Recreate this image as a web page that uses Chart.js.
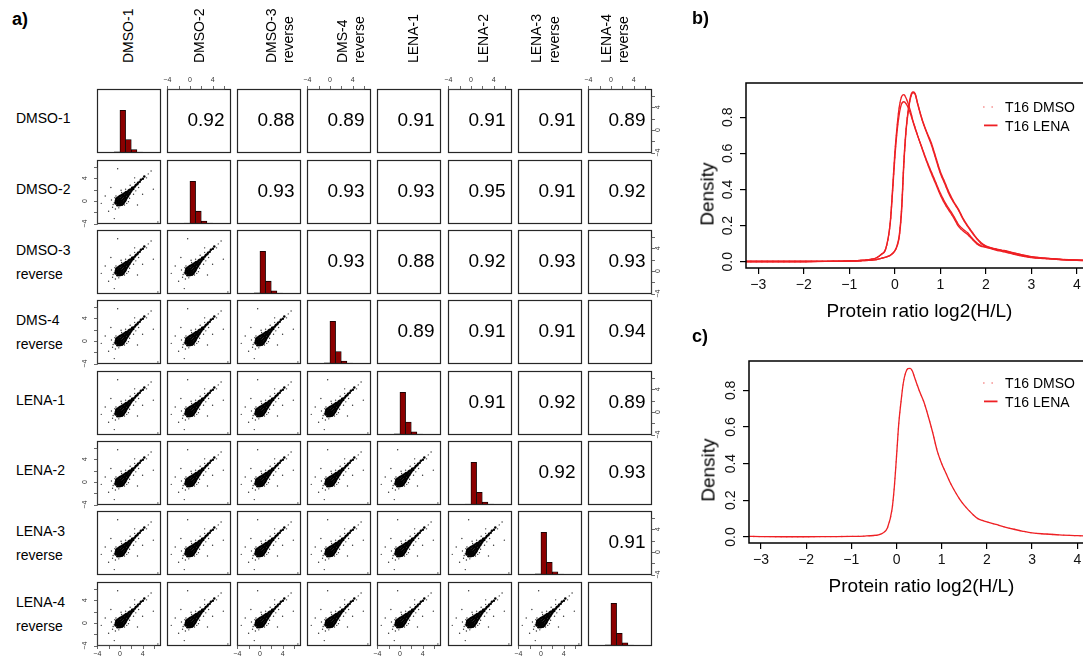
<!DOCTYPE html>
<html><head><meta charset="utf-8">
<title>Replicate correlation matrix and density plots</title>
<script src="https://cdn.jsdelivr.net/npm/chart.js@4.4.1/dist/chart.umd.min.js"></script>
<style>
html,body{margin:0;padding:0;background:#fff;}
body{width:1083px;height:657px;overflow:hidden;position:relative;font-family:"Liberation Sans",Arial,Helvetica,sans-serif;color:#000;}
.abs{position:absolute;white-space:nowrap;}
canvas{display:block;}
</style></head><body>
<script>
// ================= DATA =================
const sampleLabels = [['DMSO-1'],['DMSO-2'],['DMSO-3','reverse'],['DMS-4','reverse'],['LENA-1'],['LENA-2'],['LENA-3','reverse'],['LENA-4','reverse']];

// Pearson correlations, upper triangle (row sample vs. following columns)
const corrDMSO1 = [0.92, 0.88, 0.89, 0.91, 0.91, 0.91, 0.89];
const corrDMSO2 = [0.93, 0.93, 0.93, 0.95, 0.91, 0.92];
const corrDMSO3 = [0.93, 0.88, 0.92, 0.93, 0.93];
const corrDMS4  = [0.89, 0.91, 0.91, 0.94];
const corrLENA1 = [0.91, 0.92, 0.89];
const corrLENA2 = [0.92, 0.93];
const corrLENA3 = [0.91];

// Histogram (diagonal), bin centres and counts
const histBinCenters = [-0.5, 0.5, 1.5, 2.5, 3.5];
const histDMSO1 = [45, 1650, 520, 135, 40];
const histDMSO2 = [40, 1700, 510, 120, 35];
const histDMSO3 = [50, 1680, 505, 125, 40];
const histDMS4  = [45, 1720, 505, 120, 35];
const histLENA1 = [45, 1690, 515, 125, 38];
const histLENA2 = [40, 1710, 510, 118, 35];
const histLENA3 = [48, 1700, 505, 130, 40];
const histLENA4 = [45, 1690, 500, 125, 38];

// Scatter cloud (lower panels), estimated log2 ratio pairs: dense core ...
const coreX = [-0.45,-0.75,-0.15,-0.45,-0.75,0.1,-0.15,-0.45,-0.7,0.35,0.1,-0.15,-0.4,-0.65,0.5,0.25,0,-0.25,-0.5,0.65,0.4,0.15,-0.1,-0.35,0.75,0.45,0.15,-0.15,0.9,0.6,0.3,0.0,1.0,0.75,0.45,0.2,1.1,0.85,0.6,0.4,1.2,0.9,0.6,1.35,1.05,0.75,1.45,1.2,0.95,1.55,1.3,1.1,1.7,1.4,1.8,1.5,1.9,1.65,2.05,1.85,2.1,2.35,2.15,2.4,2.65,2.8,3.05,3.2,3.5,3.7,4.05,4.3];
const coreY = [-0.75,-0.45,-0.75,-0.45,-0.15,-0.7,-0.45,-0.15,0.1,-0.65,-0.4,-0.15,0.1,0.35,-0.5,-0.25,0,0.25,0.5,-0.35,-0.1,0.15,0.4,0.65,-0.15,0.15,0.45,0.75,0.0,0.3,0.6,0.9,0.2,0.45,0.75,1.0,0.4,0.65,0.9,1.1,0.6,0.9,1.2,0.75,1.05,1.35,0.95,1.2,1.45,1.15,1.4,1.6,1.3,1.6,1.5,1.8,1.7,1.95,1.85,2.05,2.1,2.15,2.35,2.4,2.55,2.85,2.95,3.25,3.4,3.75,3.95,4.35];
// ... and sparse halo / outliers
const haloX = [-1.0,-0.9,-1.3,0.3,0.8,-0.7,1.7,1.0,2.4,-0.8,1.2,1.8,2.8,0.2,-1.5,1.5,2.6,3.3,-0.2,-1.2,
  -2.6,-3.3,-1.0,5.0,5.5,-1.6,3.1,6.7,2.6,-0.4,5.9,4.0,-2.0,4.7];
const haloY = [-0.3,0.6,-1.1,1.5,-0.7,0.9,0.5,2.1,1.2,-1.4,-0.4,2.8,1.8,1.9,0.2,-0.1,3.3,2.4,-1.2,-0.6,
  0.9,-0.4,-3.1,4.8,5.3,2.4,-0.7,-3.7,4.1,5.7,2.1,1.2,-1.8,4.1];

// Matrix axes
const matrixTicks = [-4, -2, 0, 2, 4, 6];
const matrixTickLabels = [-4, 0, 4];

// Density curves (panels b, c)
const densX = [-3.3,-3,-2.5,-2,-1.5,-1,-0.7,-0.5,-0.4,-0.3,-0.2,-0.1,-0.05,0,0.05,0.1,0.15,0.2,0.25,0.3,0.35,0.4,0.45,0.5,0.6,0.7,0.8,0.9,1.0,1.1,1.2,1.3,1.4,1.5,1.6,1.7,1.8,1.9,2.0,2.2,2.4,2.6,2.8,3.0,3.3,3.6,4.0,4.4];
const densB_L1 = [0.001,0.001,0.001,0.001,0.002,0.004,0.008,0.014,0.022,0.04,0.07,0.22,0.40,0.60,0.75,0.86,0.915,0.926,0.905,0.87,0.83,0.78,0.74,0.70,0.63,0.56,0.50,0.44,0.38,0.33,0.29,0.25,0.205,0.18,0.16,0.13,0.105,0.088,0.082,0.07,0.058,0.045,0.033,0.024,0.018,0.013,0.008,0.005];
const densB_L2 = [0.001,0.001,0.001,0.001,0.002,0.004,0.008,0.014,0.022,0.04,0.07,0.21,0.38,0.57,0.72,0.82,0.875,0.886,0.875,0.85,0.815,0.775,0.735,0.70,0.625,0.555,0.49,0.43,0.37,0.32,0.28,0.24,0.195,0.17,0.15,0.125,0.10,0.085,0.08,0.066,0.054,0.042,0.031,0.022,0.017,0.012,0.008,0.005];
const densB_R1 = [0.001,0.001,0.001,0.001,0.002,0.003,0.006,0.009,0.012,0.018,0.025,0.035,0.045,0.06,0.09,0.15,0.30,0.56,0.74,0.85,0.92,0.94,0.93,0.88,0.79,0.72,0.66,0.58,0.50,0.44,0.38,0.33,0.29,0.24,0.20,0.165,0.13,0.105,0.088,0.072,0.062,0.05,0.038,0.028,0.02,0.014,0.009,0.005];
const densB_R2 = [0.001,0.001,0.001,0.001,0.002,0.003,0.006,0.009,0.012,0.018,0.025,0.035,0.045,0.06,0.085,0.14,0.28,0.54,0.73,0.84,0.91,0.935,0.925,0.875,0.785,0.715,0.65,0.57,0.49,0.43,0.37,0.325,0.285,0.235,0.195,0.16,0.128,0.10,0.085,0.07,0.06,0.048,0.036,0.026,0.019,0.013,0.009,0.005];
const densC = [0.003,0.002,0.001,0.001,0.002,0.003,0.005,0.008,0.012,0.022,0.05,0.15,0.27,0.44,0.62,0.74,0.84,0.895,0.918,0.92,0.905,0.87,0.835,0.80,0.74,0.66,0.57,0.47,0.40,0.345,0.29,0.245,0.205,0.172,0.145,0.12,0.10,0.09,0.082,0.068,0.054,0.042,0.031,0.022,0.016,0.011,0.007,0.004];

// ================= LAYOUT =================
const PANEL_LEFT = [97, 167, 237, 307, 377, 448, 518, 588];
const PANEL_TOP  = [89, 160, 230, 300, 371, 441, 511, 582];
const PANEL = 64, M = 16;
const RANGE = [-4.05, 7.25];
const colLabelPos = [[127.7],[199.3],[270.5,287.8],[341.7,358.5],[412.7],[482.7],[535.7,554],[605.8,622.5]];
const FONT = '"Liberation Sans", Arial, Helvetica, sans-serif';
const RED = 'rgb(238,32,36)';
const PINK = 'rgb(246,150,150)';

Chart.defaults.font.family = FONT;
Chart.defaults.animation = false;

const corrRows = [corrDMSO1, corrDMSO2, corrDMSO3, corrDMS4, corrLENA1, corrLENA2, corrLENA3];
const histBySample = [histDMSO1, histDMSO2, histDMSO3, histDMS4, histLENA1, histLENA2, histLENA3, histLENA4];
const corePoints = coreX.map((x, i) => ({x, y: coreY[i]}));
const haloPoints = haloX.map((x, i) => ({x, y: haloY[i]}));

const fmtMinus = v => (v < 0 ? '\u2212' + Math.abs(v) : String(v));

function addText(text, left, top, css) {
  const d = document.createElement('div');
  d.className = 'abs';
  d.textContent = text;
  d.style.left = left + 'px';
  d.style.top = top + 'px';
  Object.assign(d.style, css || {});
  document.body.appendChild(d);
  return d;
}
function addCanvas(left, top, w, h) {
  const wrap = document.createElement('div');
  wrap.className = 'abs';
  wrap.style.left = left + 'px'; wrap.style.top = top + 'px';
  wrap.style.width = w + 'px'; wrap.style.height = h + 'px';
  const cv = document.createElement('canvas');
  cv.width = w; cv.height = h;
  cv.style.width = w + 'px'; cv.style.height = h + 'px';
  wrap.appendChild(cv);
  document.body.appendChild(wrap);
  return cv;
}

// Frame + R-style pairs axes
const rPanel = {
  id: 'rPanel',
  afterDraw(chart, args, opts) {
    const {ctx, chartArea: a} = chart;
    ctx.save();
    ctx.strokeStyle = '#262626';
    ctx.lineWidth = 1.2;
    ctx.strokeRect(a.left + 0.5, a.top + 0.5, a.right - a.left - 1, a.bottom - a.top - 1);
    ctx.lineWidth = 0.8;
    ctx.strokeStyle = '#444';
    ctx.fillStyle = '#333';
    ctx.font = '7px ' + FONT;
    ctx.textAlign = 'center';
    ctx.textBaseline = 'middle';
    (opts.sides || []).forEach(side => {
      const horiz = side === 'top' || side === 'bottom';
      const sc = horiz ? chart.scales.x : chart.scales.y;
      const px = v => Math.round(sc.getPixelForValue(v)) + 0.5;
      const first = px(matrixTicks[0]), last = px(matrixTicks[matrixTicks.length - 1]);
      ctx.beginPath();
      if (side === 'top') {
        const y = a.top + 0.5;
        ctx.moveTo(first, y); ctx.lineTo(last, y);
        matrixTicks.forEach(v => { ctx.moveTo(px(v), y); ctx.lineTo(px(v), y - 3.5); });
      } else if (side === 'bottom') {
        const y = a.bottom - 0.5;
        ctx.moveTo(first, y); ctx.lineTo(last, y);
        matrixTicks.forEach(v => { ctx.moveTo(px(v), y); ctx.lineTo(px(v), y + 3.5); });
      } else if (side === 'left') {
        const x = a.left + 0.5;
        ctx.moveTo(x, first); ctx.lineTo(x, last);
        matrixTicks.forEach(v => { ctx.moveTo(x, px(v)); ctx.lineTo(x - 3.5, px(v)); });
      } else {
        const x = a.right - 0.5;
        ctx.moveTo(x, first); ctx.lineTo(x, last);
        matrixTicks.forEach(v => { ctx.moveTo(x, px(v)); ctx.lineTo(x + 3.5, px(v)); });
      }
      ctx.stroke();
      matrixTickLabels.forEach(v => {
        const p = sc.getPixelForValue(v);
        const t = fmtMinus(v);
        if (side === 'top') ctx.fillText(t, p, a.top - 9);
        else if (side === 'bottom') ctx.fillText(t, p, a.bottom + 8.5);
        else {
          ctx.save();
          ctx.translate(side === 'left' ? a.left - 11.5 : a.right + 6.5, p);
          ctx.rotate(-Math.PI / 2);
          ctx.fillText(t, 0, 0);
          ctx.restore();
        }
      });
    });
    ctx.restore();
  }
};

function panelOptions(sides, yScale) {
  return {
    responsive: false, animation: false, events: [], devicePixelRatio: 1,
    layout: {padding: M},
    plugins: {legend: {display: false}, tooltip: {enabled: false}, rPanel: {sides}},
    scales: {
      x: {type: 'linear', display: false, min: RANGE[0], max: RANGE[1], offset: false},
      y: yScale || {type: 'linear', display: false, min: RANGE[0], max: RANGE[1]}
    }
  };
}

// ================= MATRIX (a) =================
for (let r = 0; r < 8; r++) {
  for (let c = 0; c < 8; c++) {
    const sides = [];
    if (r === 0 && c % 2 === 1) sides.push('top');
    if (r === 7 && c % 2 === 0) sides.push('bottom');
    if (c === 0 && r % 2 === 1) sides.push('left');
    if (c === 7 && r % 2 === 0) sides.push('right');
    const cv = addCanvas(PANEL_LEFT[c] - M, PANEL_TOP[r] - M, PANEL + 2 * M, PANEL + 2 * M);
    let cfg;
    if (r === c) {
      const counts = histBySample[r];
      cfg = {
        type: 'bar',
        data: {datasets: [{
          data: histBinCenters.map((x, i) => ({x, y: counts[i]})),
          backgroundColor: '#8b0000', borderColor: '#000', borderWidth: 0.8,
          borderSkipped: false, barPercentage: 1, categoryPercentage: 1
        }]},
        options: panelOptions(sides, {type: 'linear', display: false, min: 0, max: 1.5 * Math.max(...counts)}),
        plugins: [rPanel]
      };
    } else if (r > c) {
      cfg = {
        type: 'scatter',
        data: {datasets: [
          {data: corePoints, pointRadius: 1.25, pointBorderWidth: 0, pointBackgroundColor: '#000', pointBorderColor: '#000'},
          {data: haloPoints, pointRadius: 0.7, pointBorderWidth: 0, pointBackgroundColor: '#333', pointBorderColor: '#333'}
        ]},
        options: panelOptions(sides),
        plugins: [rPanel]
      };
    } else {
      cfg = {type: 'scatter', data: {datasets: []}, options: panelOptions(sides), plugins: [rPanel]};
      const v = corrRows[r][c - r - 1];
      addText(v.toFixed(2), PANEL_LEFT[c] + PANEL - 6.5, PANEL_TOP[r] + 29.5,
        {fontSize: '19px', lineHeight: '19px', transform: 'translate(-100%,-50%)'});
    }
    new Chart(cv, cfg);
  }
}

// Row labels
sampleLabels.forEach((lines, r) => {
  const cy = PANEL_TOP[r] + 32;
  const ys = lines.length === 1 ? [cy - 3] : [cy - 12, cy + 12];
  lines.forEach((t, k) => addText(t, 16, ys[k] - 7, {fontSize: '14px', lineHeight: '14px'}));
});
// Column labels (rotated)
sampleLabels.forEach((lines, c) => {
  lines.forEach((t, k) => addText(t, colLabelPos[c][k], 63 - 7,
    {fontSize: '14px', lineHeight: '14px', transformOrigin: '0 50%', transform: 'rotate(-90deg)'}));
});

// Panel tags
addText('a)', 12, 10, {fontSize: '18px', lineHeight: '18px', fontWeight: 'bold'});
addText('b)', 692, 9, {fontSize: '18px', lineHeight: '18px', fontWeight: 'bold'});
addText('c)', 692, 327, {fontSize: '18px', lineHeight: '18px', fontWeight: 'bold'});

// ================= DENSITY (b, c) =================
const dFrame = {
  id: 'dFrame',
  afterDraw(chart) {
    const {ctx, chartArea: a} = chart;
    ctx.save();
    ctx.strokeStyle = '#000';
    ctx.lineWidth = 1.5;
    ctx.strokeRect(a.left, a.top, a.right - a.left, a.bottom - a.top);
    ctx.restore();
  }
};

function densityChart(o) {
  const cv = addCanvas(o.left, o.top, o.width, o.height);
  const toPts = arr => densX.map((x, i) => ({x, y: arr[i]}));
  const datasets = [];
  o.lena.forEach(arr => datasets.push({label: 'T16 LENA', data: toPts(arr), borderColor: RED, borderWidth: 1.3,
    pointRadius: 0, fill: false, cubicInterpolationMode: 'monotone'}));
  o.dmso.forEach(arr => datasets.push({label: 'T16 DMSO', data: toPts(arr), borderColor: PINK, borderWidth: 1.3,
    borderDash: [1.5, 4], pointRadius: 0, fill: false, cubicInterpolationMode: 'monotone'}));
  const grid = {drawOnChartArea: false, drawTicks: true, tickLength: 6, color: '#000', lineWidth: 1.2};
  new Chart(cv, {
    type: 'line',
    data: {datasets},
    options: {
      responsive: false, animation: false, events: [], devicePixelRatio: 1,
      layout: {padding: {top: o.padTop, right: o.padRight, left: 0, bottom: 0}},
      plugins: {legend: {display: false}, tooltip: {enabled: false}},
      scales: {
        x: {type: 'linear', min: o.xmin, max: o.xmax, afterFit: s => { s.height = o.xAxisH; },
          ticks: {stepSize: 1, includeBounds: false, autoSkip: false, maxRotation: 0, padding: 3, color: '#111',
            font: {size: 14}, callback: v => fmtMinus(v)},
          grid, border: {display: false},
          title: {display: true, text: 'Protein ratio log2(H/L)', color: '#000', font: {size: 19}, padding: {top: 0, bottom: 0}}},
        y: {type: 'linear', min: o.ymin, max: o.ymax, afterFit: s => { s.width = o.yAxisW; },
          ticks: {stepSize: 0.2, includeBounds: false, minRotation: 90, maxRotation: 90, crossAlign: 'center',
            padding: 2.5, color: '#111', font: {size: 14}, callback: v => v.toFixed(1)},
          grid, border: {display: false}}
      }
    },
    plugins: [dFrame]
  });
  // y title
  addText('Density', o.densX, o.densY, {fontSize: '19px', lineHeight: '19px', transform: 'translate(-50%,-50%) rotate(-90deg)'});
  // legend
  const ns = 'http://www.w3.org/2000/svg';
  const svg = document.createElementNS(ns, 'svg');
  svg.setAttribute('width', '20'); svg.setAttribute('height', '40');
  svg.style.position = 'absolute'; svg.style.left = '980px'; svg.style.top = (o.legY1 - 10) + 'px';
  const l1 = document.createElementNS(ns, 'line');
  l1.setAttribute('x1', '3'); l1.setAttribute('x2', '18'); l1.setAttribute('y1', '10'); l1.setAttribute('y2', '10');
  l1.setAttribute('stroke', PINK); l1.setAttribute('stroke-width', '1.6'); l1.setAttribute('stroke-dasharray', '1.6 6.8');
  const l2 = document.createElementNS(ns, 'line');
  l2.setAttribute('x1', '4'); l2.setAttribute('x2', '17.5'); l2.setAttribute('y1', String(10 + o.legY2 - o.legY1)); l2.setAttribute('y2', String(10 + o.legY2 - o.legY1));
  l2.setAttribute('stroke', RED); l2.setAttribute('stroke-width', '1.8');
  svg.appendChild(l1); svg.appendChild(l2);
  document.body.appendChild(svg);
  addText('T16 DMSO', 1005, o.legY1 - 7, {fontSize: '14px', lineHeight: '14px'});
  addText('T16 LENA', 1005, o.legY2 - 7, {fontSize: '14px', lineHeight: '14px'});
}

densityChart({left: 690, top: 60, width: 420, height: 263, padTop: 23, padRight: 17, xAxisH: 55, yAxisW: 56,
  xmin: -3.27, xmax: 4.356, ymin: -0.035, ymax: 0.99,
  lena: [densB_L1, densB_L2, densB_R1, densB_R2], dmso: [densB_L1, densB_L2, densB_R1, densB_R2],
  densX: 707, densY: 194, legY1: 107.3, legY2: 125.7});
densityChart({left: 690, top: 338, width: 420, height: 260, padTop: 23, padRight: 16, xAxisH: 55, yAxisW: 59,
  xmin: -3.265, xmax: 4.37, ymin: -0.033, ymax: 0.96,
  lena: [densC], dmso: [densC],
  densX: 708, densY: 470, legY1: 383.3, legY2: 401.7});
</script>
</body></html>
